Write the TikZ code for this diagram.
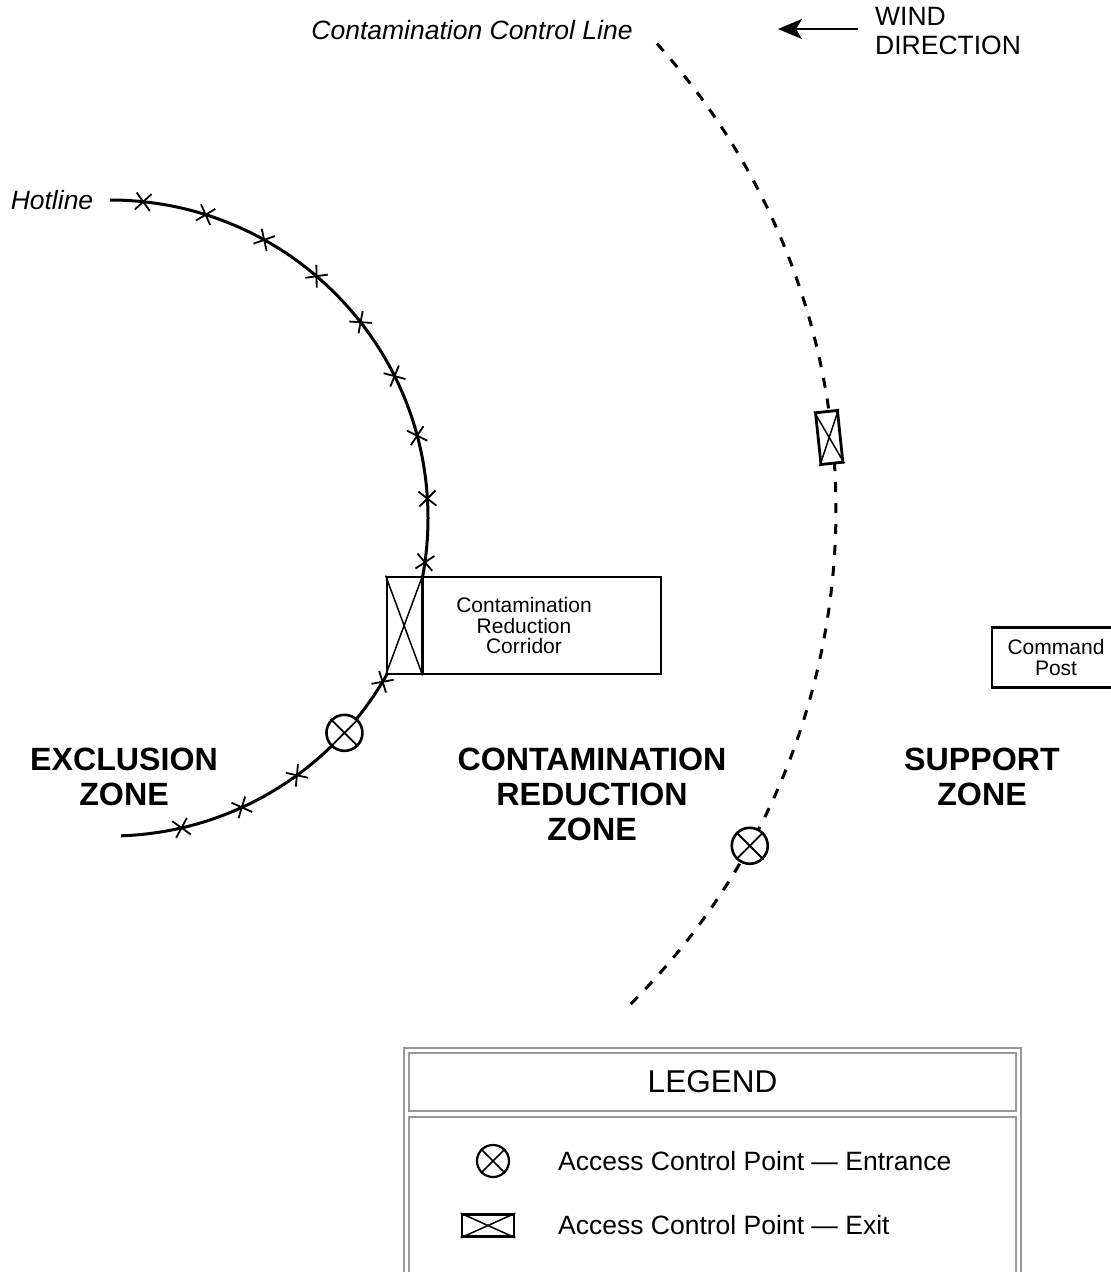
\documentclass[tikz,border=0pt]{standalone}
\usepackage{fontspec}
\setmainfont{Liberation Sans}
\usetikzlibrary{arrows.meta,calc}
\definecolor{framegray}{gray}{0.6}

\tikzset{
  xmark/.pic={\draw[line width=1.8pt] (-7.5,-8.5)--(7.5,8.5) (-7.5,8.5)--(7.5,-8.5);},
}

\begin{document}
\begin{tikzpicture}[x=1pt,y=1pt,
  hotline/.style={line width=3pt},
  ccline/.style={line width=3pt, dash pattern=on 10pt off 11pt},
  zone/.style={font={\fontsize{32.2}{35}\selectfont\bfseries}, align=center, inner sep=0pt},
  caption/.style={font={\fontsize{26.5}{29}\selectfont\itshape}, inner sep=0pt},
  plain/.style={font={\fontsize{26.5}{29}\selectfont}, inner sep=0pt},
  small/.style={font={\fontsize{21}{20.5}\selectfont}, align=center},
  entry/.style={circle, draw, fill=white, line width=2.6pt, minimum size=36pt, inner sep=0pt},
  exitbox/.style={rectangle, draw, fill=white, line width=2.8pt, minimum width=22pt, minimum height=52pt, inner sep=0pt},
  frame/.style={rectangle, draw=framegray, line width=1.5pt, inner sep=0pt},
]
\useasboundingbox (0,0) rectangle (1111,-1272);
\clip (0,0) rectangle (1111,-1272);

% centres of the two boundary arcs
\coordinate (hc) at (110,-518);
\coordinate (dc) at (139,-510);

% ---- hotline around the exclusion zone ----
\coordinate (hl-start) at ([shift={(90:318)}]hc);
\draw[hotline] (hl-start) arc[start angle=90, end angle=-88, radius=318];
\foreach \k in {0,...,8,10,12,13,14}{
  \pgfmathsetmacro\a{84-11.5*\k}
  \pic[rotate=\a-90] at ([shift={(\a:318)}]hc) {xmark};
}
\node[entry] (hl-entry) at ([shift={(-42.5:318)}]hc) {};
\draw[line width=1.8pt] (hl-entry.45)--(hl-entry.225) (hl-entry.135)--(hl-entry.315);
\node[caption] (hotlbl) at (52,-200) {Hotline};

% ---- contamination reduction corridor ----
\node[rectangle, draw, fill=white, line width=2.8pt, minimum width=274pt, minimum height=97pt, small] (corr) at (524,-625.5)
  {Contamination\\Reduction\\Corridor};
\coordinate (divtop) at ($(corr.north west)+(37,0)$);
\coordinate (divbot) at ($(corr.south west)+(37,0)$);
\draw[line width=2.8pt] (divtop)--(divbot);
\draw[line width=1.5pt] (corr.north west)--(divbot) (divtop)--(corr.south west);

% ---- contamination control line ----
\coordinate (cc-start) at ([shift={(42:697)}]dc);
\draw[ccline] (cc-start) arc[start angle=42, end angle=-45.2, radius=697];
\node[exitbox, rotate=6] (cc-exit) at ([shift={(6:694)}]dc) {};
\draw[line width=1.5pt] (cc-exit.north west)--(cc-exit.south east) (cc-exit.north east)--(cc-exit.south west);
\node[entry] (cc-entry) at ([shift={(-28.8:697)}]dc) {};
\draw[line width=1.8pt] (cc-entry.45)--(cc-entry.225) (cc-entry.135)--(cc-entry.315);
\node[caption] (cclbl) at (472,-30) {Contamination Control Line};

% ---- wind direction ----
\coordinate (wind-tail) at (858,-29);
\coordinate (wind-tip) at (778,-29);
\draw[line width=2.4pt, -{Stealth[length=24pt, width=20pt, inset=6pt]}] (wind-tail)--(wind-tip);
\node[plain, align=left, anchor=north west] (windlbl) at (875,-7) {WIND\\DIRECTION};

% ---- command post ----
\node[rectangle, draw, line width=2.8pt, minimum width=128pt, minimum height=60pt, small] (cpost) at (1056,-657.5)
  {Command\\Post};

% ---- zone names ----
\node[zone] (ezone) at (124,-776.5) {EXCLUSION\\ZONE};
\node[zone] (crzone) at (592,-794) {CONTAMINATION\\REDUCTION\\ZONE};
\node[zone] (szone) at (982,-776.5) {SUPPORT\\ZONE};

% ---- legend ----
\node[frame, minimum width=617pt, minimum height=252pt] (lgouter) at (712.5,-1174) {};
\node[frame, minimum width=607pt, minimum height=58pt, font={\fontsize{31.5}{35}\selectfont}] (lgtitle) at (712.5,-1082) {LEGEND};
\node[frame, minimum width=607pt, minimum height=183pt] (lgbody) at (712.5,-1208.5) {};

\node[circle, draw, line width=2.2pt, minimum size=32pt, inner sep=0pt] (lg-entry) at (493,-1161) {};
\draw[line width=1.6pt] (lg-entry.45)--(lg-entry.225) (lg-entry.135)--(lg-entry.315);
\node[plain, anchor=west] (lg-entry-txt) at (558,-1161) {Access Control Point — Entrance};

\node[rectangle, draw, line width=2.6pt, minimum width=52pt, minimum height=22pt, inner sep=0pt] (lg-exit) at (488,-1225.5) {};
\draw[line width=1.5pt] (lg-exit.north west)--(lg-exit.south east) (lg-exit.north east)--(lg-exit.south west);
\node[plain, anchor=west] (lg-exit-txt) at (558,-1225) {Access Control Point — Exit};

\end{tikzpicture}
\end{document}
